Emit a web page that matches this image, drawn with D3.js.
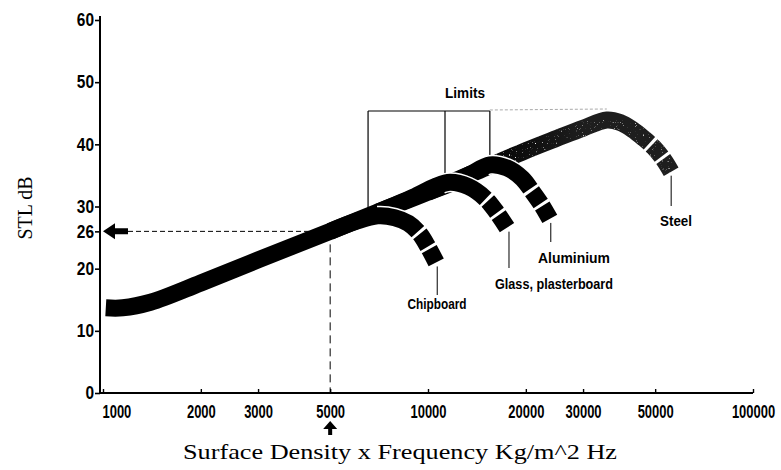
<!DOCTYPE html>
<html>
<head>
<meta charset="utf-8">
<script src="https://cdn.jsdelivr.net/npm/d3@7"></script>
<style>
  body { margin: 0; background: #fff; }
  svg { display: block; }
</style>
</head>
<body>
<svg id="chart" width="781" height="470"></svg>
<script>
// Axis ticks
const xTickValues = [1000, 2000, 3000, 5000, 10000, 20000, 30000, 50000, 100000];
const yTickValues = [0, 10, 20, 26, 30, 40, 50, 60];

// Sound transmission loss (dB) against surface density x frequency, per material.
// Steel is the full mass-law band; the others branch off it at their limits.
const steel = [[1020, 13.7], [1150, 13.7], [1400, 14.6], [2000, 17.7], [3000, 21.4], [5000, 26.0],
               [7000, 29.1], [10000, 32.3], [15000, 36.2], [20000, 39.0], [25000, 41.0], [30000, 42.6],
               [35500, 43.9], [39000, 43.5], [42500, 42.4], [46000, 41.0], [49500, 39.5], [53000, 37.6], [56000, 35.6]];
const aluminium = [[10000, 32.3], [12000, 33.9], [13500, 35.2], [15500, 36.7], [17500, 36.2],
                   [19500, 34.5], [21000, 32.3], [22400, 30.2], [23700, 28.0]];
const glass = [[7000, 29.1], [9000, 31.5], [10500, 33.2], [11700, 33.9], [13300, 33.2],
               [15000, 31.3], [16300, 29.0], [17500, 26.6]];
const chipboard = [[5000, 26.0], [6000, 27.6], [7000, 28.5], [7900, 28.2], [8700, 27.3],
                   [9400, 25.7], [10000, 23.5], [10600, 21.0]];

const materialNames = ["Steel", "Aluminium", "Glass, plasterboard", "Chipboard"];
const limitFreqs = [6540, 11280, 15500];   // chipboard, glass, aluminium
const steelLimitFreq = 35500;
const readout = [5000, 26];                 // worked example: 5000 -> 26 dB

const xTitle = "Surface Density x Frequency Kg/m^2  Hz";
const yTitle = "STL dB";

// ---------------------------------------------------------------------------
const svg = d3.select("#chart");
const x = d3.scaleLog().domain([1000, 100000]).range([103, 753]);
const y = d3.scaleLinear().domain([0, 60]).range([393, 20]);
const line = d3.line()
  .x(d => x(d[0]))
  .y(d => y(d[1]))
  .curve(d3.curveCatmullRom.alpha(0.5));

const condensed = "'Liberation Sans', Arial, sans-serif";
const serif = "'Liberation Serif', 'Times New Roman', serif";

const defs = svg.append("defs");
const tone = defs.append("linearGradient")
  .attr("id", "steelTone")
  .attr("gradientUnits", "userSpaceOnUse")
  .attr("x1", x(14000)).attr("x2", x(30000)).attr("y1", 0).attr("y2", 0);
tone.append("stop").attr("offset", 0).attr("stop-color", "#000");
tone.append("stop").attr("offset", 1).attr("stop-color", "#1e1e1e");

// speckled print texture on the upper steel band
const grain = defs.append("filter").attr("id", "grain")
  .attr("x", 0).attr("y", 0).attr("width", 1).attr("height", 1);
grain.append("feTurbulence").attr("type", "fractalNoise").attr("baseFrequency", 0.85)
  .attr("numOctaves", 1).attr("seed", 7).attr("result", "noise");
grain.append("feColorMatrix").attr("in", "noise").attr("type", "matrix")
  .attr("values", "0 0 0 0 1  0 0 0 0 1  0 0 0 0 1  6 0 0 0 -3.9").attr("result", "dots");
grain.append("feComposite").attr("in", "dots").attr("in2", "SourceAlpha").attr("operator", "in");

defs.append("clipPath").attr("id", "upperSteel")
  .append("rect").attr("x", x(15000)).attr("y", 0).attr("width", 400).attr("height", 470);

// ---- axes -----------------------------------------------------------------
const yAxis = svg.append("g")
  .attr("transform", "translate(100,0)")
  .call(d3.axisLeft(y).tickValues(yTickValues).tickSize(5).tickSizeOuter(0).tickPadding(1));
yAxis.select(".domain").attr("stroke-width", 2).attr("d", `M0,${y(0)}V16`);
yAxis.selectAll(".tick line").attr("stroke-width", 1.6);
yAxis.selectAll(".tick text")
  .attr("font-family", condensed).attr("font-weight", "bold").attr("font-size", 18)
  .attr("fill", "#000")
  .attr("transform", "scale(0.86,1)")
  .attr("x", -6 / 0.86);

const xAxis = svg.append("g")
  .attr("transform", `translate(0,${y(0)})`)
  .call(d3.axisBottom(x).tickValues(xTickValues).tickFormat(d3.format("d"))
    .tickSizeInner(-4).tickSizeOuter(0).tickPadding(12));
xAxis.select(".domain").remove();
xAxis.append("line").attr("x1", 100).attr("x2", x(100000)).attr("y1", 0).attr("y2", 0)
  .attr("stroke", "#000").attr("stroke-width", 2);
xAxis.selectAll(".tick line").attr("stroke-width", 1.4);
xAxis.selectAll(".tick text")
  .attr("font-family", condensed).attr("font-weight", "bold").attr("font-size", 18)
  .attr("fill", "#000")
  .attr("transform", "scale(0.72,1)")
  .attr("text-anchor", (d, i) => i === 0 ? "start" : "middle")
  .attr("x", (d, i) => i === 0 ? -1 / 0.72 : 0);

svg.append("text")
  .attr("x", 400).attr("y", 459)
  .attr("text-anchor", "middle")
  .attr("font-family", serif).attr("font-size", 22)
  .attr("textLength", 434).attr("lengthAdjust", "spacingAndGlyphs")
  .text(xTitle);

svg.append("text")
  .attr("transform", "translate(32,208) rotate(-90)")
  .attr("text-anchor", "middle")
  .attr("font-family", serif).attr("font-size", 22)
  .attr("textLength", 63).attr("lengthAdjust", "spacingAndGlyphs")
  .text(yTitle);

// ---- worked-example readout ----------------------------------------------
const rx = x(readout[0]), ry = y(readout[1]);
svg.append("line").attr("x1", 128).attr("x2", rx).attr("y1", ry).attr("y2", ry)
  .attr("stroke", "#000").attr("stroke-width", 1).attr("stroke-dasharray", "5,3");
svg.append("line").attr("x1", rx).attr("x2", rx).attr("y1", ry).attr("y2", y(0))
  .attr("stroke", "#000").attr("stroke-width", 1).attr("stroke-dasharray", "8,5");
// arrow to the STL axis
svg.append("path")
  .attr("d", `M103,${ry} L115,${ry - 8} L115,${ry - 3} L128,${ry - 3} L128,${ry + 3} L115,${ry + 3} L115,${ry + 8} Z`)
  .attr("fill", "#000");
// arrow under the 5000 label
svg.append("path")
  .attr("d", `M${rx},421 L${rx + 7},429 L${rx + 2},429 L${rx + 2},435 L${rx - 2},435 L${rx - 2},429 L${rx - 7},429 Z`)
  .attr("fill", "#000");

// ---- bands ------------------------------------------------------------------
const bandW = 17, block = 15, gap = 3;
const bandLayer = svg.append("g");
const limitLayer = svg.insert("g", () => bandLayer.node());

// path length at which the path reaches screen x = px
function lengthAtX(node, px) {
  let lo = 0, hi = node.getTotalLength();
  for (let i = 0; i < 40; i++) {
    const mid = (lo + hi) / 2;
    if (node.getPointAtLength(mid).x < px) lo = mid; else hi = mid;
  }
  return lo;
}
function pathYAt(node, px) {
  return node.getPointAtLength(lengthAtX(node, px)).y;
}

function drawBand(data, opts) {
  const d = line(data);
  const probe = bandLayer.append("path").attr("d", d).attr("fill", "none");
  const node = probe.node();
  const L = node.getTotalLength();
  const split = opts.splitFreq ? lengthAtX(node, x(opts.splitFreq)) : 0;
  probe.remove();
  const tail = opts.blocks * (block + gap);
  const dash = [L - tail];
  for (let i = 0; i < opts.blocks; i++) dash.push(gap, block);
  dash.push(200);
  if (opts.splitFreq) {
    // white rim only where the branch leaves the shared band
    bandLayer.append("path").attr("d", d).attr("fill", "none")
      .attr("stroke", "#fff").attr("stroke-width", bandW + 3)
      .attr("stroke-dasharray", `0,${split},${L}`);
  }
  const p = bandLayer.append("path").attr("d", d).attr("fill", "none")
    .attr("stroke", opts.stroke || "#000")
    .attr("stroke-width", bandW)
    .attr("stroke-dasharray", dash.join(","));
  if (opts.grain) {
    bandLayer.append("path").attr("d", d).attr("fill", "none")
      .attr("stroke", "#000").attr("stroke-width", bandW)
      .attr("stroke-dasharray", dash.join(","))
      .attr("clip-path", "url(#upperSteel)")
      .attr("filter", "url(#grain)");
  }
  return p.node();
}

const steelNode = drawBand(steel, { blocks: 2, stroke: "url(#steelTone)", grain: true });
const aluNode = drawBand(aluminium, { blocks: 2, splitFreq: 15000 });
const glassNode = drawBand(glass, { blocks: 2, splitFreq: 11000 });
const chipNode = drawBand(chipboard, { blocks: 2, splitFreq: 7000 });

// ---- limits bracket ---------------------------------------------------------
const bracketY = 111;
const limitNodes = [chipNode, glassNode, aluNode];
limitFreqs.forEach((f, i) => {
  const lx = x(f);
  limitLayer.append("line").attr("x1", lx).attr("x2", lx)
    .attr("y1", bracketY).attr("y2", pathYAt(limitNodes[i], lx))
    .attr("stroke", "#000").attr("stroke-width", 1.2);
});
limitLayer.append("line")
  .attr("x1", x(limitFreqs[0])).attr("x2", x(limitFreqs[2]))
  .attr("y1", bracketY).attr("y2", bracketY)
  .attr("stroke", "#000").attr("stroke-width", 1.2);
limitLayer.append("line")
  .attr("x1", x(limitFreqs[2])).attr("x2", x(steelLimitFreq))
  .attr("y1", bracketY - 1).attr("y2", bracketY - 2)
  .attr("stroke", "#aaa").attr("stroke-width", 1).attr("stroke-dasharray", "3,2");
svg.append("text")
  .attr("x", 465).attr("y", 98).attr("text-anchor", "middle")
  .attr("font-family", condensed).attr("font-weight", "bold").attr("font-size", 15)
  .attr("textLength", 40).attr("lengthAdjust", "spacingAndGlyphs")
  .text("Limits");

// ---- material labels with leaders -----------------------------------------
const labelSpecs = [
  { series: steel, name: materialNames[0], lx: 676, base: 226, width: 32, leadX: 0, leadTo: 206 },
  { series: aluminium, name: materialNames[1], lx: 574, base: 263, width: 72, leadX: 1, leadTo: 242 },
  { series: glass, name: materialNames[2], lx: 554, base: 289, width: 118, leadX: 2, leadTo: 268 },
  { series: chipboard, name: materialNames[3], lx: 437, base: 309, width: 59, leadX: 1, leadTo: 295 }
];
labelSpecs.forEach(s => {
  const end = s.series[s.series.length - 1];
  const ex = x(end[0]) + s.leadX, ey = y(end[1]);
  svg.append("line").attr("x1", ex).attr("x2", ex).attr("y1", ey + 4).attr("y2", s.leadTo)
    .attr("stroke", "#000").attr("stroke-width", 1);
  svg.append("text")
    .attr("x", s.lx).attr("y", s.base).attr("text-anchor", "middle")
    .attr("font-family", condensed).attr("font-weight", "bold").attr("font-size", 15)
    .attr("textLength", s.width).attr("lengthAdjust", "spacingAndGlyphs")
    .text(s.name);
});
</script>
</body>
</html>
